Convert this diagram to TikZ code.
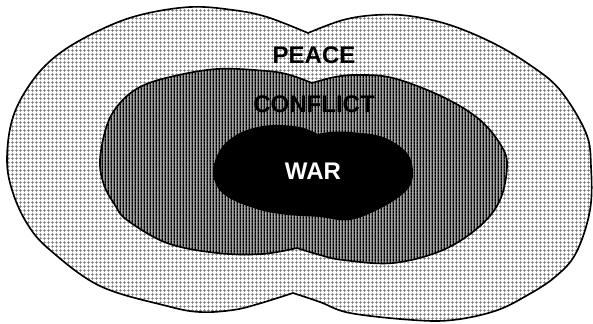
\documentclass[tikz,border=0pt]{standalone}
\usepackage{fontspec}
\setsansfont{Liberation Sans}
\usepackage{tikz}
\usetikzlibrary{patterns.meta}

% fine dotted grid of the outer zone
\tikzdeclarepattern{
  name=peacegrid,
  type=uncolored,
  bounding box={(0,0) and (3pt,3pt)},
  tile size={(3pt,3pt)},
  code={
    \draw[line width=0.5pt] (0,1.5pt) -- (3pt,1.5pt);
    \draw[line width=0.5pt] (1.5pt,0) -- (1.5pt,3pt);
  }
}
% dense vertical hatching of the middle zone
\tikzdeclarepattern{
  name=conflictlines,
  type=uncolored,
  bounding box={(0,0) and (2.4pt,2.4pt)},
  tile size={(2.4pt,2.4pt)},
  code={
    \draw[line width=1.2pt] (1.2pt,0) -- (1.2pt,2.4pt);
  }
}

\begin{document}
\begin{tikzpicture}[x=0.03cm, y=-0.03cm, line join=round,
    zone/.style={draw=black, line width=1.4pt},
    zonelabel/.style={font=\sffamily\bfseries\fontsize{20.5}{21}\selectfont, inner sep=0pt}]
  \useasboundingbox (0,0) rectangle (593,323);
  % ---- outer zone: peace ----
  \draw[zone, preaction={fill=white}, pattern=peacegrid, pattern color=black!60]
    plot[smooth, tension=0.6] coordinates {(308,33) (267,17) (233,10) (190,7) (140,15) (100,30)
      (60,53) (33,80) (13,117) (7,160) (13,193) (28,225) (50,250) (100,286) (167,306)
      (200,312) (233,310) (258,304) (293,293)}
    -- plot[smooth, tension=0.6] coordinates {(293,293) (320,302) (350,313) (413,320) (453,320)
      (495,311) (526,296) (555,277) (576,253) (590,210) (591,167) (586,133) (560,90)
      (530,65) (493,43) (450,25) (410,16) (376,15) (343,20) (308,33)}
    -- cycle;
  % ---- middle zone: conflict ----
  \draw[zone, preaction={fill=black!35}, pattern=conflictlines, pattern color=black]
    plot[smooth, tension=0.6] coordinates {(312,83) (290,75) (267,71) (217,69) (170,77) (140,87)
      (120,103) (107,125) (100,160) (104,185) (115,205) (127,220) (167,243) (217,253)
      (262,254) (297,248)}
    -- plot[smooth, tension=0.6] coordinates {(297,248) (320,255) (343,260) (393,263) (443,250)
      (480,226) (500,200) (507,167) (502,147) (480,120) (443,97) (393,78) (357,75)
      (335,77) (312,83)}
    -- cycle;
  % ---- inner zone: war ----
  \fill[black]
    plot[smooth, tension=0.6] coordinates {(318,134) (300,127) (273,125) (250,129) (233,137)
      (220,150) (213,170) (218,188) (233,200) (260,210) (280,214) (300,216)}
    -- plot[smooth, tension=0.6] coordinates {(300,216) (320,217) (350,220) (383,207) (407,190)
      (413,173) (407,153) (383,137) (350,132) (330,132) (318,134)}
    -- cycle;
  % labels
  \node[zonelabel] (peace) at (314,55) {PEACE};
  \node[zonelabel] (conflict) at (314,104) {CONFLICT};
  \node[zonelabel, text=white] (war) at (313,171) {WAR};
\end{tikzpicture}
\end{document}
